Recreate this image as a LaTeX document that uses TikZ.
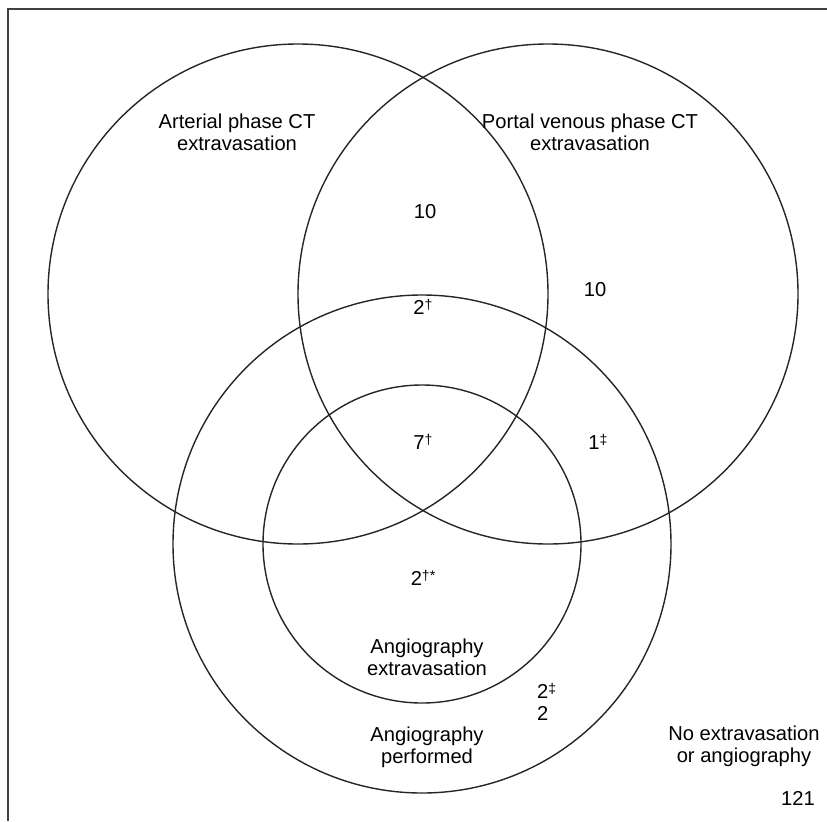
\documentclass[tikz,border=0pt]{standalone}
\usepackage{fontspec}
\setmainfont{Liberation Sans}

\newcommand{\mk}[1]{\raisebox{0.45ex}{\fontsize{12}{12}\selectfont #1}}

\tikzset{
    ring/.style={draw=black!85, line width=0.42mm},
    frame/.style={draw=black!75, line width=0.6mm},
    lbl/.style={align=center, inner sep=0pt, font=\fontsize{17.2}{18.7}\selectfont},
}

\begin{document}
\begin{tikzpicture}[x=0.3mm,y=-0.3mm]

    \useasboundingbox (0,0) rectangle (827,821);

    % Frame
    \draw[frame] (827,9) -- (8,9) -- (8,821);

    % Circles
    \coordinate (arterial) at (298,294);
    \coordinate (portal) at (548,294);
    \coordinate (angio) at (422,544);
    \draw[ring] (arterial) circle (250);
    \draw[ring] (portal) circle (250);
    \draw[ring] (angio) circle (249);
    \draw[ring] (angio) circle (159);

    % Labels
    \node[lbl] (artlbl) at (237,132) {Arterial phase CT\\extravasation};
    \node[lbl] (porlbl) at (590,132) {Portal venous phase CT\\extravasation};
    \node[lbl] (angext) at (427,657) {Angiography\\extravasation};
    \node[lbl] (angper) at (427,747) {Angiography\\performed};
    \node[lbl] (nolbl) at (744,746) {No extravasation\\or angiography};

    % Counts
    \node[lbl] (nab) at (425,212) {10};
    \node[lbl] (nb) at (595,290) {10};
    \node[lbl] (nabc) at (423,307) {2\mk{†}};
    \node[lbl] (nabd) at (423,442) {7\mk{†}};
    \node[lbl] (nbc) at (598,442) {1\mk{‡}};
    \node[lbl] (nd) at (423,578) {2\mk{†*}};
    \node[lbl, align=left, anchor=west] (nc) at (537,702) {2\mk{‡}\\2};
    \node[lbl] (none) at (798,798) {121};

\end{tikzpicture}
\end{document}
